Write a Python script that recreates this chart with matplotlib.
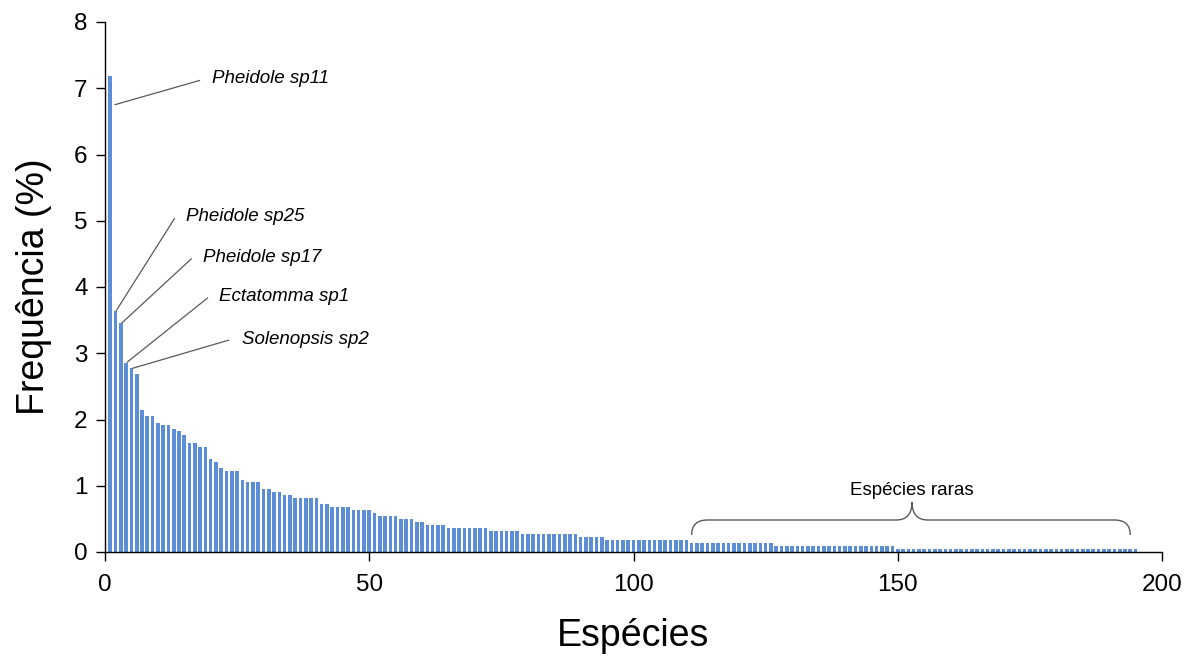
import matplotlib
matplotlib.use("Agg")
import matplotlib.pyplot as plt
from matplotlib.path import Path
from matplotlib.patches import PathPatch

plt.rcParams['font.family'] = ['Liberation Sans', 'DejaVu Sans']

# Frequency (%) of each species, ranked
freq = [
    7.18, 3.64, 3.45, 2.86, 2.77, 2.68, 2.14, 2.05, 2.05, 1.95,
    1.91, 1.91, 1.86, 1.82, 1.77, 1.64, 1.64, 1.59, 1.59, 1.41,
    1.36, 1.27, 1.23, 1.23, 1.23, 1.09, 1.05, 1.05, 1.05, 0.95,
    0.95, 0.91, 0.91, 0.86, 0.86, 0.82, 0.82, 0.82, 0.82, 0.82,
    0.73, 0.73, 0.68, 0.68, 0.68, 0.68, 0.64, 0.64, 0.64, 0.64,
    0.59, 0.55, 0.55, 0.55, 0.55, 0.50, 0.50, 0.50, 0.45, 0.45,
    0.41, 0.41, 0.41, 0.41, 0.36, 0.36, 0.36, 0.36, 0.36, 0.36,
    0.36, 0.36, 0.32, 0.32, 0.32, 0.32, 0.32, 0.32, 0.27, 0.27,
    0.27, 0.27, 0.27, 0.27, 0.27, 0.27, 0.27, 0.27, 0.27, 0.23,
    0.23, 0.23, 0.23, 0.23, 0.18, 0.18, 0.18, 0.18, 0.18, 0.18,
    0.18, 0.18, 0.18, 0.18, 0.18, 0.18, 0.18, 0.18, 0.18, 0.18,
    0.14, 0.14, 0.14, 0.14, 0.14, 0.14, 0.14, 0.14, 0.14, 0.14,
    0.14, 0.14, 0.14, 0.14, 0.14, 0.14, 0.09, 0.09, 0.09, 0.09,
    0.09, 0.09, 0.09, 0.09, 0.09, 0.09, 0.09, 0.09, 0.09, 0.09,
    0.09, 0.09, 0.09, 0.09, 0.09, 0.09, 0.09, 0.09, 0.09, 0.045,
    0.045, 0.045, 0.045, 0.045, 0.045, 0.045, 0.045, 0.045, 0.045, 0.045,
    0.045, 0.045, 0.045, 0.045, 0.045, 0.045, 0.045, 0.045, 0.045, 0.045,
    0.045, 0.045, 0.045, 0.045, 0.045, 0.045, 0.045, 0.045, 0.045, 0.045,
    0.045, 0.045, 0.045, 0.045, 0.045, 0.045, 0.045, 0.045, 0.045, 0.045,
    0.045, 0.045, 0.045, 0.045, 0.045,
]
rank = list(range(1, len(freq) + 1))

# Labelled species: (rank, label, text position, leader-line end, drop below bar top)
labels = [
    (1, "Pheidole sp11", (20.2, 7.15), (18.0, 7.12), 0.43),
    (2, "Pheidole sp25", (15.3, 5.06), (13.2, 5.04), 0.0),
    (3, "Pheidole sp17", (18.5, 4.44), (16.4, 4.43), 0.0),
    (4, "Ectatomma sp1", (21.6, 3.85), (19.5, 3.84), 0.0),
    (5, "Solenopsis sp2", (25.9, 3.20), (23.5, 3.20), 0.0),
]
rare_start, rare_end = 111, 194
rare_label = "Espécies raras"

xticks = [0, 50, 100, 150, 200]
yticks = [0, 1, 2, 3, 4, 5, 6, 7, 8]

fig = plt.figure(figsize=(12.02, 6.60), dpi=100)
ax = fig.add_axes([105 / 1202, 1 - 552 / 660, (1162 - 105) / 1202, (552 - 22) / 660])

ax.bar(rank, freq, width=0.68, color='#5b8ed6', edgecolor='none', linewidth=0, zorder=2)

ax.set_xlim(0, 200)
ax.set_ylim(0, 8)
ax.set_xticks(xticks)
ax.set_yticks(yticks)
ax.tick_params(axis='both', direction='out', length=6.5, width=1.0, labelsize=17.5, colors='black')
ax.tick_params(axis='x', pad=9)
ax.tick_params(axis='y', pad=6)
for s in ['top', 'right']:
    ax.spines[s].set_visible(False)
for s in ['left', 'bottom']:
    ax.spines[s].set_linewidth(1.0)
    ax.spines[s].set_color('black')

ax.set_xlabel("Espécies", fontsize=27, labelpad=16)
ax.set_ylabel("Frequência (%)", fontsize=27, labelpad=16)

line_col = '#595959'
for r, txt, tpos, lend, drop in labels:
    y = freq[r - 1] - drop
    x0 = r + (0.8 if drop > 0 else 0.1)
    ax.plot([x0, lend[0]], [y, lend[1]], color=line_col, lw=0.9, zorder=3,
            solid_capstyle='butt')
    ax.text(tpos[0], tpos[1], txt, fontsize=13.5, style='italic', ha='left', va='center', color='black')

# brace over rare species
xm = (rare_start + rare_end) / 2 + 0.2
yb, ym, yt = 0.257, 0.483, 0.755
dx = 3.0
verts = [
    (rare_start, yb), (rare_start, ym), (rare_start + dx, ym),
    (xm - dx, ym),
    (xm, ym), (xm, yt),
    (xm, ym), (xm + dx, ym),
    (rare_end - dx, ym),
    (rare_end, ym), (rare_end, yb),
]
codes = [Path.MOVETO, Path.CURVE3, Path.CURVE3, Path.LINETO,
         Path.CURVE3, Path.CURVE3, Path.CURVE3, Path.CURVE3,
         Path.LINETO, Path.CURVE3, Path.CURVE3]
ax.add_patch(PathPatch(Path(verts, codes), fill=False, edgecolor=line_col, lw=1.0, zorder=3))
ax.text(xm, 0.93, rare_label, fontsize=13.5, ha='center', va='center', color='black')

fig.savefig("out.png", dpi=100)
